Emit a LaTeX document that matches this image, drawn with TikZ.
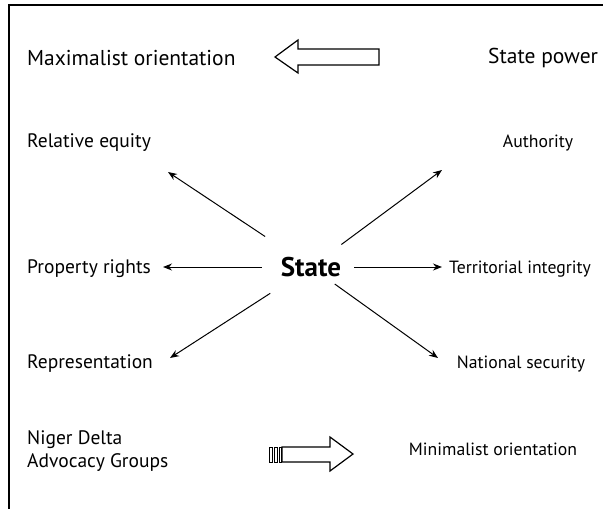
\documentclass[tikz,border=0pt]{standalone}
\usepackage{fontspec}
\setmainfont{PT Sans}
\usepackage{tikz}
\usetikzlibrary{calc, arrows.meta}

\tikzset{
  lbl/.style={inner sep=0pt, font=\fontsize{19.5}{23}\selectfont},
  rlbl/.style={inner sep=0pt, font=\fontsize{17.7}{21}\selectfont},
  biglbl/.style={inner sep=0pt, font=\fontsize{21.5}{25}\selectfont},
  spoke/.style={-{Stealth[length=9pt, width=7pt]}, line width=1pt},
  blockarr/.style={line width=1.2pt, fill=white}
}

\begin{document}
\begin{tikzpicture}[x=1pt, y=-1pt]
\useasboundingbox (0,0) rectangle (603,509);
\draw[line width=1.2pt] (9,509) -- (9,5) -- (603,5); 

\node[biglbl, anchor=west] (maxo) at (27,58) {Maximalist orientation}; 
\node[biglbl, anchor=west] (stpow) at (488,58) {State power}; 
\draw[blockarr] (379,49) -- (298,49) -- (298,40) -- (275,57) -- (298,73) -- (298,65) -- (379,65) -- cycle; 

\node[inner sep=0pt, font=\fontsize{27}{30}\selectfont\bfseries] (state) at (311,267) {State}; 

\node[lbl, anchor=west] (rel) at (27,143) {Relative equity}; 
\node[rlbl] (auth) at (538,143) {Authority}; 
\node[lbl, anchor=west] (prop) at (27,269) {Property rights}; 
\node[rlbl] (terr) at (520,269) {Territorial integrity}; 
\node[lbl, anchor=west] (rep) at (27,364) {Representation}; 
\node[rlbl] (nat) at (521,364) {National security}; 

\coordinate (relE) at (168,172); 
\coordinate (authE) at (442,170); 
\coordinate (propE) at (163,267); 
\coordinate (terrE) at (442,267); 
\coordinate (repE) at (170,358); 
\coordinate (natE) at (438,358); 

\draw[spoke, shorten <=37pt] (state) -- (relE); 
\draw[spoke, shorten <=21pt] (state) -- (authE); 
\draw[spoke, shorten <=19pt] (state) -- (propE); 
\draw[spoke, shorten <=13pt] (state) -- (terrE); 
\draw[spoke, shorten <=30pt] (state) -- (repE); 
\draw[spoke, shorten <=12pt] (state) -- (natE); 

\node[lbl, anchor=west, align=left] (ngo) at (27,451) {Niger Delta\\Advocacy Groups}; 
\node[rlbl] (mino) at (493,449) {Minimalist orientation}; 
\draw[blockarr] (282,447) -- (330,447) -- (330,437) -- (353,454) -- (330,471) -- (330,462) -- (282,462) -- cycle; 
\draw[line width=1pt] (269,447) rectangle (272,462); 
\draw[line width=1pt] (274,447) rectangle (277,462); 
\draw[line width=1pt] (279,447) rectangle (281,462); 
\end{tikzpicture}
\end{document}
